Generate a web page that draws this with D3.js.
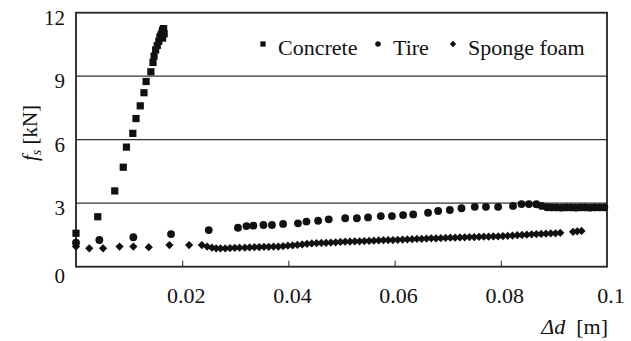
<!DOCTYPE html>
<html>
<head>
<meta charset="utf-8">
<script src="https://cdn.jsdelivr.net/npm/d3@7"></script>
<style>
  body { margin: 0; background: #fff; }
</style>
</head>
<body>
<script>
// values (x in m, y in kN)
const concreteX = [0, 0.0041, 0.0073, 0.0089, 0.0095, 0.0107, 0.0113, 0.0121, 0.0128, 0.0132, 0.0141, 0.0145,
  0.0147, 0.0150, 0.0153, 0.0156, 0.0158, 0.0160, 0.0162, 0.0163, 0.0164, 0.0165, 0.0163, 0.0166];
const concreteY = [1.58, 2.36, 3.58, 4.7, 5.65, 6.3, 7.0, 7.6, 8.22, 8.75, 9.21, 9.65,
  9.95, 10.24, 10.45, 10.65, 10.85, 10.95, 11.05, 11.15, 11.2, 11.25, 10.8, 11.0];

const tireX = [0, 0.0044, 0.0108, 0.0179, 0.0250, 0.0305, 0.0321, 0.0334, 0.0353, 0.0369, 0.0390, 0.0418,
  0.0434, 0.0456, 0.0476, 0.0507, 0.0529, 0.0550, 0.0574, 0.0595, 0.0616, 0.0635, 0.0663, 0.0682,
  0.0704, 0.0726, 0.0751, 0.0772, 0.0795, 0.0823, 0.0839, 0.0853, 0.0867, 0.0877, 0.0887, 0.0896,
  0.0905, 0.0914, 0.0923, 0.0932, 0.0941, 0.0950, 0.0959, 0.0968, 0.0977, 0.0986, 0.0995];
const tireY = [1.13, 1.26, 1.39, 1.54, 1.73, 1.84, 1.92, 1.94, 1.97, 1.97, 2.02, 2.05,
  2.13, 2.17, 2.24, 2.29, 2.29, 2.33, 2.39, 2.39, 2.44, 2.47, 2.55, 2.63,
  2.68, 2.76, 2.83, 2.83, 2.83, 2.87, 2.96, 2.96, 2.95, 2.87, 2.81, 2.80,
  2.80, 2.79, 2.80, 2.80, 2.79, 2.80, 2.80, 2.79, 2.80, 2.80, 2.80];

const foamX = [0, 0.0025, 0.0051, 0.0082, 0.0108, 0.0137, 0.0176, 0.0213, 0.0237, 0.0247, 0.0256, 0.0264,
  0.0272, 0.0281, 0.0290, 0.0299, 0.0308, 0.0318, 0.0327, 0.0336, 0.0345, 0.0354, 0.0363, 0.0372,
  0.0381, 0.0390, 0.0399, 0.0408, 0.0417, 0.0426, 0.0435, 0.0444, 0.0453, 0.0462, 0.0471, 0.0480,
  0.0489, 0.0498, 0.0507, 0.0516, 0.0525, 0.0534, 0.0543, 0.0552, 0.0561, 0.0570, 0.0579, 0.0588,
  0.0597, 0.0606, 0.0615, 0.0624, 0.0633, 0.0642, 0.0651, 0.0660, 0.0669, 0.0678, 0.0687, 0.0696,
  0.0705, 0.0714, 0.0723, 0.0732, 0.0741, 0.0750, 0.0759, 0.0768, 0.0777, 0.0786, 0.0795, 0.0804,
  0.0813, 0.0822, 0.0831, 0.0840, 0.0849, 0.0858, 0.0867, 0.0876, 0.0885, 0.0894, 0.0903, 0.0912,
  0.0936, 0.0944, 0.0952];
const foamY = [0.95, 0.87, 0.87, 0.95, 0.95, 0.92, 1.02, 1.02, 1.02, 0.95, 0.90, 0.87,
  0.86, 0.86, 0.88, 0.89, 0.90, 0.90, 0.91, 0.92, 0.93, 0.94, 0.94, 0.95,
  0.95, 0.97, 0.99, 1.01, 1.03, 1.05, 1.08, 1.10, 1.11, 1.12, 1.13, 1.14,
  1.15, 1.17, 1.18, 1.19, 1.20, 1.20, 1.21, 1.22, 1.23, 1.24, 1.25, 1.26,
  1.26, 1.27, 1.28, 1.29, 1.30, 1.31, 1.32, 1.33, 1.34, 1.34, 1.35, 1.36,
  1.37, 1.37, 1.38, 1.39, 1.40, 1.40, 1.41, 1.42, 1.42, 1.43, 1.43, 1.45,
  1.46, 1.47, 1.49, 1.50, 1.51, 1.53, 1.54, 1.55, 1.56, 1.57, 1.58, 1.60,
  1.65, 1.67, 1.69];

const xTicks = [0.02, 0.04, 0.06, 0.08, 0.1];
const yTicks = [0, 3, 6, 9, 12];
const legendNames = ["Concrete", "Tire", "Sponge foam"];

const width = 631, height = 341;
const plotL = 76, plotR = 607, plotT = 12.7, plotB = 266.7;
const serif = "'Liberation Serif', 'Times New Roman', serif";

const svg = d3.select("body").append("svg")
  .attr("width", width)
  .attr("height", height);

const x = d3.scaleLinear().domain([0, 0.1]).range([plotL, plotR]);
const y = d3.scaleLinear().domain([0, 12]).range([plotB, plotT]);

// gridlines
svg.append("g")
  .selectAll("line")
  .data(yTicks.filter(d => d > 0 && d < 12))
  .enter().append("line")
  .attr("x1", plotL).attr("x2", plotR)
  .attr("y1", d => y(d)).attr("y2", d => y(d))
  .attr("stroke", "#333").attr("stroke-width", 1.2);

// frame
svg.append("rect")
  .attr("x", plotL).attr("y", plotT)
  .attr("width", plotR - plotL).attr("height", plotB - plotT)
  .attr("fill", "none").attr("stroke", "#222").attr("stroke-width", 1.8);

// x axis ticks pointing inward
svg.append("g")
  .attr("transform", "translate(0," + plotB + ")")
  .call(d3.axisBottom(x).tickValues(xTicks.filter(d => d < 0.1)).tickSize(-6).tickFormat(""))
  .call(g => g.select(".domain").remove())
  .call(g => g.selectAll("line").attr("stroke", "#222"));

// x tick labels
svg.append("g")
  .selectAll("text")
  .data(xTicks)
  .enter().append("text")
  .attr("x", d => x(d) + 4)
  .attr("y", 303)
  .attr("text-anchor", "middle")
  .style("font-family", serif)
  .style("font-size", "22px")
  .attr("fill", "#111")
  .text(d => d);

// y tick labels
svg.append("g")
  .selectAll("text")
  .data(yTicks)
  .enter().append("text")
  .attr("x", 65)
  .attr("y", d => y(d) + (d === 0 ? 16 : 12))
  .attr("text-anchor", "end")
  .style("font-family", serif)
  .style("font-size", "21px")
  .attr("fill", "#111")
  .text(d => d);

// axis titles
const yt = svg.append("text")
  .attr("transform", "translate(37,133) rotate(-90)")
  .attr("text-anchor", "middle")
  .style("font-family", serif)
  .style("font-size", "21px")
  .attr("fill", "#111");
yt.append("tspan").style("font-style", "italic").text("f");
yt.append("tspan").style("font-style", "italic").style("font-size", "14px").attr("dy", 4).text("s");
yt.append("tspan").attr("dy", -4).text("\u00a0[kN]");

const xt = svg.append("text")
  .attr("x", 608).attr("y", 334)
  .attr("text-anchor", "end")
  .style("font-family", serif)
  .style("font-size", "22px")
  .attr("fill", "#111");
xt.append("tspan").style("font-style", "italic").text("\u0394d");
xt.append("tspan").text("\u00a0\u00a0[m]");

// markers
const sq = d3.symbol().type(d3.symbolSquare).size(52);
const dot = d3.symbol().type(d3.symbolCircle).size(48);
const dia = d3.symbol().type(d3.symbolSquare).size(34);

function plot(xs, ys, sym, rot) {
  svg.append("g")
    .selectAll("path")
    .data(xs.map((v, i) => [v, ys[i]]))
    .enter().append("path")
    .attr("d", sym)
    .attr("transform", d => "translate(" + x(d[0]) + "," + y(d[1]) + ")" + (rot ? " rotate(45)" : ""))
    .attr("fill", "#111");
}
plot(foamX, foamY, dia, true);
plot(tireX, tireY, dot, false);
plot(concreteX, concreteY, sq, false);

// legend
const legX = [278, 393, 468];
const legSym = [d3.symbol().type(d3.symbolSquare).size(28), d3.symbol().type(d3.symbolCircle).size(24),
  d3.symbol().type(d3.symbolSquare).size(20)];
const leg = svg.append("g")
  .selectAll("g")
  .data(legendNames)
  .enter().append("g");
leg.append("path")
  .attr("d", (d, i) => legSym[i]())
  .attr("transform", (d, i) => "translate(" + (legX[i] - 15) + ",44)" + (i === 2 ? " rotate(45)" : ""))
  .attr("fill", "#111");
leg.append("text")
  .attr("x", (d, i) => legX[i])
  .attr("y", 55)
  .style("font-family", serif)
  .style("font-size", "22px")
  .attr("fill", "#111")
  .text(d => d);
</script>
</body>
</html>
